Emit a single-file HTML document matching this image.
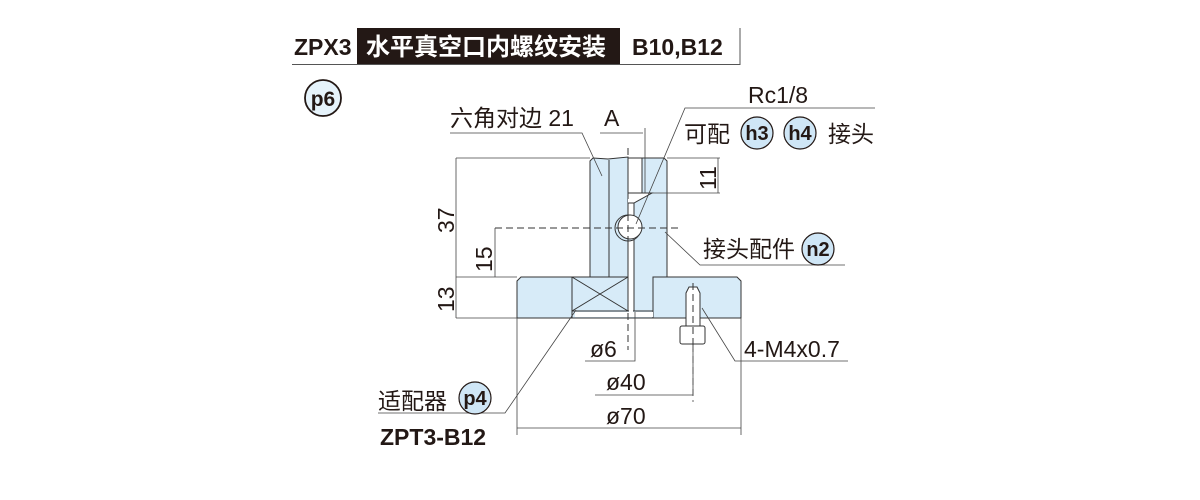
<!DOCTYPE html>
<html><head><meta charset="utf-8"><style>
html,body{margin:0;padding:0;background:#fff;width:1200px;height:500px;overflow:hidden}
text{font-family:"Liberation Sans","Noto Sans CJK SC",sans-serif;fill:#231815}
</style></head><body>
<svg width="1200" height="500" viewBox="0 0 1200 500" xmlns="http://www.w3.org/2000/svg">
<!-- header -->
<text x="294" y="55" font-size="23" font-weight="bold">ZPX3</text>
<rect x="357" y="28" width="263" height="36" fill="#231815"/>
<text x="366" y="55" font-size="24" font-weight="bold" style="fill:#fff">水平真空口内螺纹安装</text>
<text x="632" y="55" font-size="23" font-weight="bold">B10,B12</text>
<line x1="292" y1="64.5" x2="740" y2="64.5" stroke="#555" stroke-width="1"/>
<line x1="740" y1="28" x2="740" y2="65" stroke="#555" stroke-width="1"/>
<circle cx="323" cy="98" r="18" fill="#e6f3fb" stroke="#231815" stroke-width="1.8"/>
<text x="323" y="106" font-size="21" font-weight="bold" text-anchor="middle">p6</text>

<g stroke="#333" stroke-width="1" fill="#d7ebf8">
<path d="M590 161 L593 158 L608 159 L628 157 L628 277 L590 277 Z"/>
<path d="M634 158 L664 158 L667 161 L667 277 L653 277 L653 311 L634 311 Z"/>
<line x1="609" y1="160" x2="609" y2="277"/>
<path d="M521 277 L628 277 L628 311 L653 311 L653 318 L517 318 L517 281 Z"/>
<path d="M653 277 L737 277 L741 281 L741 318 L653 318 Z"/>
<line x1="572" y1="277" x2="572" y2="318"/>
<line x1="572" y1="311" x2="628" y2="311"/>
<line x1="572" y1="277" x2="628" y2="311"/>
<line x1="628" y1="277" x2="572" y2="311"/>
</g>
<rect x="575" y="312" width="78" height="5" fill="#fff"/>
<rect x="629" y="238" width="4" height="74" fill="#fff"/>
<rect x="628" y="158" width="14" height="35" fill="#fff" stroke="#333"/>
<path d="M628 193 L652 193 L634 203 L628 203" fill="#fff" stroke="#333"/>
<circle cx="628" cy="228" r="13" fill="#d7ebf8" stroke="#333"/>
<circle cx="630" cy="227" r="12" fill="#fff" stroke="#333"/>
<path d="M686 293 L689 287 L697 287 L700 293 L700 326 L686 326 Z" fill="#fff" stroke="#333"/>
<rect x="680" y="326" width="25" height="18" rx="2" fill="#fff" stroke="#333"/>
<g stroke="#333" stroke-width="1" stroke-dasharray="7,4" fill="none">
<line x1="628" y1="148" x2="628" y2="350"/>
<line x1="693" y1="283" x2="693" y2="350"/>
<line x1="495" y1="228" x2="680" y2="228"/>
</g>

<g stroke="#444" stroke-width="0.8" fill="none">
<line x1="456" y1="158" x2="590" y2="158"/>
<line x1="456" y1="158" x2="456" y2="318"/>
<line x1="456" y1="277" x2="517" y2="277"/>
<line x1="456" y1="318" x2="517" y2="318"/>
<line x1="495" y1="228" x2="495" y2="277"/>
<line x1="667" y1="158" x2="720" y2="158"/>
<line x1="652" y1="193" x2="720" y2="193"/>
<line x1="718" y1="158" x2="718" y2="193"/>
<line x1="600" y1="133" x2="643" y2="133"/>
<line x1="645" y1="128" x2="645" y2="193"/>
<polyline points="450,133 582,133 602,176"/>
<polyline points="875,108 685,108 636,224"/>
<polyline points="845,265 700,265 665,232"/>
<polyline points="848,361 735,361 702,308"/>
<polyline points="378,413 505,413 576,310"/>
<polyline points="585,361 635,361 635,312"/>
<polyline points="595,395 693,395 693,345"/>
<line x1="693" y1="345" x2="693" y2="402" stroke-dasharray="7,4"/>
<line x1="517" y1="318" x2="517" y2="435"/>
<line x1="741" y1="318" x2="741" y2="435"/>
<line x1="517" y1="428" x2="741" y2="428"/>
</g>

<g font-size="23">
<text x="450" y="126">六角对边 21</text>
<text x="604" y="126">A</text>
<text x="748" y="103">Rc1/8</text>
<text x="684" y="142">可配</text>
<text x="828" y="142">接头</text>
<text x="703" y="257">接头配件</text>
<text x="590" y="357">ø6</text>
<text x="744" y="357">4-M4x0.7</text>
<text x="606" y="390">ø40</text>
<text x="606" y="424">ø70</text>
<text x="378" y="409">适配器</text>
<text transform="translate(454,233) rotate(-90)">37</text>
<text transform="translate(492,272) rotate(-90)">15</text>
<text transform="translate(454,312) rotate(-90)">13</text>
<text transform="translate(716,190) rotate(-90)">11</text>
</g>
<text x="380" y="445" font-size="23" font-weight="bold">ZPT3-B12</text>
<g stroke="#231815" stroke-width="1.2" fill="#cfe6f6">
<circle cx="757" cy="133" r="16"/><circle cx="800" cy="133" r="16"/>
<circle cx="818" cy="249" r="16"/><circle cx="475" cy="398" r="16"/>
</g>
<g font-size="20" font-weight="bold" text-anchor="middle">
<text x="757" y="140">h3</text><text x="800" y="140">h4</text>
<text x="818" y="256">n2</text><text x="475" y="405">p4</text>
</g>
</svg>
</body></html>
